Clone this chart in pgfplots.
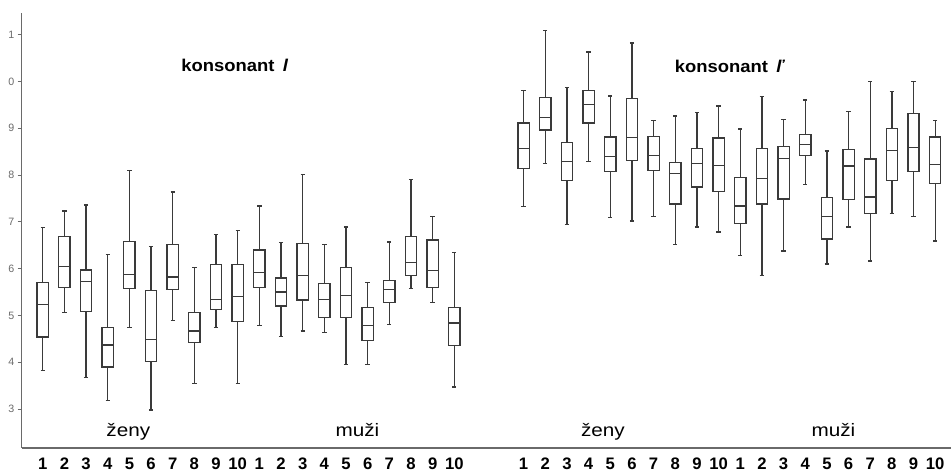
\documentclass[border=0pt]{standalone}
\usepackage{fontspec}
\setmainfont{Liberation Sans}
\usepackage{pgfplots}
\pgfplotsset{compat=1.18}
\usepgfplotslibrary{statistics}

\definecolor{boxline}{HTML}{3A3A3A}
\definecolor{axisgray}{HTML}{6A6A6A}

\tikzset{
  title node/.style={font=\fontsize{12.8}{14}\selectfont\bfseries, anchor=base, xscale=1.08},
  group node/.style={font=\fontsize{13.5}{15}\selectfont, anchor=base, xscale=1.15},
}

% one box: position, lower whisker, Q1, median, Q3, upper whisker
\newcommand{\bx}[6]{%
  \addplot[boxstyle, boxplot prepared={draw position=#1,
    lower whisker=#2, lower quartile=#3, median=#4,
    upper quartile=#5, upper whisker=#6}] coordinates {};}

\begin{document}
\begin{tikzpicture}
\useasboundingbox (-16.3pt,-18.75pt) rectangle (697pt,336pt);
\begin{axis}[
  at={(0,0)}, anchor=south west,
  scale only axis,
  width=697pt, height=326.25pt,
  xmin=0.03, xmax=42.93, ymin=2.17, ymax=11.46,
  axis x line*=bottom, axis y line*=left,
  axis line style={-, axisgray, line width=0.9pt},
  /pgf/number format/assume math mode=true,
  ytick={3,4,5,6,7,8,9,10,11},
  yticklabels={3,4,5,6,7,8,9,0,1},
  yticklabel style={font=\fontsize{8}{9}\selectfont, text=axisgray, xshift=1pt},
  tick align=outside,
  ytick style={axisgray, line width=0.7pt},
  major tick length=3pt,
  xtick={1,2,3,4,5,6,7,8,9,10,11,12,13,14,15,16,17,18,19,20,
         23.2,24.2,25.2,26.2,27.2,28.2,29.2,30.2,31.2,32.2,
         33.2,34.2,35.2,36.2,37.2,38.2,39.2,40.2,41.2,42.2},
  xticklabels={1,2,3,4,5,6,7,8,9,10,1,2,3,4,5,6,7,8,9,10,
               1,2,3,4,5,6,7,8,9,10,1,2,3,4,5,6,7,8,9,10},
  xtick style={draw=none},
  xticklabel style={font=\fontsize{12.5}{14}\selectfont\bfseries, yshift=-1pt},
  boxstyle/.style={draw=boxline, line width=1pt, solid,
    boxplot/draw direction=y,
    boxplot/box extend=0.52, boxplot/whisker extend=0.2},
  clip=false,
]
% konsonant l -- ženy
\bx{1}{3.83}{4.54}{5.23}{5.70}{6.88}
\bx{2}{5.06}{5.60}{6.05}{6.69}{7.23}
\bx{3}{3.68}{5.09}{5.72}{5.97}{7.36}
\bx{4}{3.19}{3.90}{4.37}{4.74}{6.30}
\bx{5}{4.74}{5.58}{5.88}{6.58}{8.10}
\bx{6}{2.98}{4.02}{4.49}{5.53}{6.47}
\bx{7}{4.89}{5.56}{5.82}{6.52}{7.64}
\bx{8}{3.55}{4.42}{4.67}{5.06}{6.03}
\bx{9}{4.74}{5.13}{5.34}{6.09}{6.73}
\bx{10}{3.55}{4.87}{5.40}{6.09}{6.81}
% konsonant l -- muži
\bx{11}{4.79}{5.60}{5.92}{6.40}{7.34}
\bx{12}{4.55}{5.20}{5.50}{5.80}{6.56}
\bx{13}{4.67}{5.33}{5.85}{6.53}{8.01}
\bx{14}{4.64}{4.95}{5.34}{5.68}{6.52}
\bx{15}{3.95}{4.95}{5.42}{6.03}{6.89}
\bx{16}{3.95}{4.47}{4.79}{5.17}{5.71}
\bx{17}{4.80}{5.28}{5.56}{5.74}{6.57}
\bx{18}{5.58}{5.86}{6.13}{6.69}{7.91}
\bx{19}{5.27}{5.60}{5.96}{6.61}{7.11}
\bx{20}{3.47}{4.36}{4.84}{5.17}{6.35}
% konsonant ľ -- ženy
\bx{23.2}{7.32}{8.14}{8.56}{9.11}{9.80}
\bx{24.2}{8.25}{8.96}{9.23}{9.66}{11.08}
\bx{25.2}{6.94}{7.88}{8.29}{8.69}{9.87}
\bx{26.2}{8.29}{9.11}{9.51}{9.81}{10.63}
\bx{27.2}{7.09}{8.07}{8.39}{8.81}{9.69}
\bx{28.2}{7.02}{8.31}{8.80}{9.63}{10.82}
\bx{29.2}{7.11}{8.10}{8.42}{8.82}{9.17}
\bx{30.2}{6.52}{7.38}{8.03}{8.27}{9.26}
\bx{31.2}{6.89}{7.74}{8.25}{8.57}{9.33}
\bx{32.2}{6.78}{7.65}{8.20}{8.79}{9.47}
% konsonant ľ -- muži
\bx{33.2}{6.28}{6.96}{7.34}{7.95}{8.98}
\bx{34.2}{5.86}{7.38}{7.93}{8.56}{9.68}
\bx{35.2}{6.38}{7.49}{8.35}{8.61}{9.19}
\bx{36.2}{7.80}{8.42}{8.65}{8.87}{9.60}
\bx{37.2}{6.10}{6.63}{7.12}{7.52}{8.51}
\bx{38.2}{6.89}{7.48}{8.19}{8.55}{9.35}
\bx{39.2}{6.16}{7.18}{7.53}{8.34}{10.00}
\bx{40.2}{7.18}{7.88}{8.52}{8.99}{9.78}
\bx{41.2}{7.11}{8.08}{8.59}{9.31}{9.99}
\bx{42.2}{6.59}{7.82}{8.22}{8.81}{9.16}

\node[title node] at (axis cs:9.87,10.22) {konsonant\hspace{0.45em}\textit{l}};
\node[title node] at (axis cs:32.73,10.19) {konsonant\hspace{0.45em}\textit{ľ}};
\node[group node] at (axis cs:4.95,2.42) {ženy};
\node[group node] at (axis cs:15.53,2.42) {muži};
\node[group node] at (axis cs:26.86,2.42) {ženy};
\node[group node] at (axis cs:37.50,2.42) {muži};
\end{axis}
\end{tikzpicture}
\end{document}
